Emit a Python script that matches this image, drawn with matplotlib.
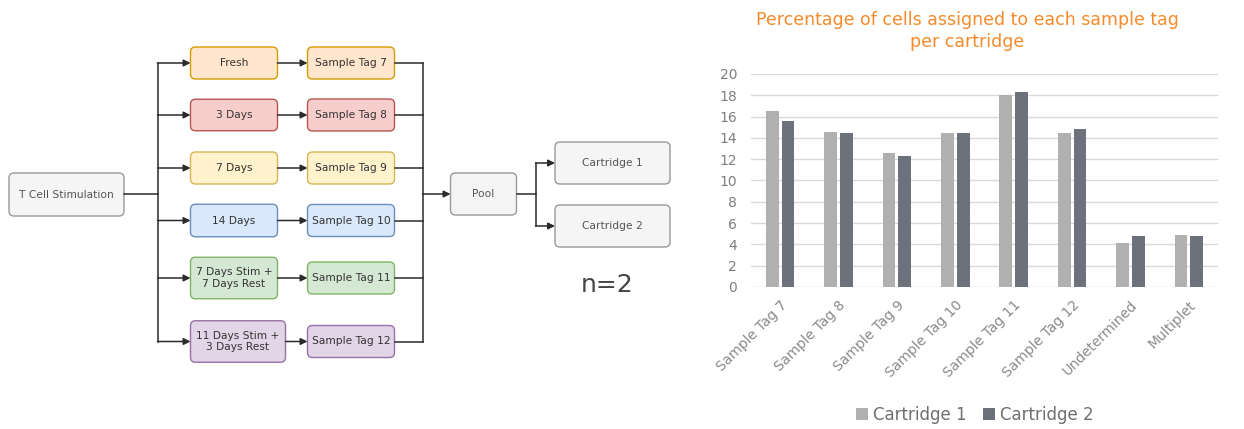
import matplotlib.pyplot as plt
import numpy as np
from matplotlib.patches import FancyBboxPatch

# Workflow labels
start_label = 'T Cell Stimulation'
stages = ['Fresh', '3 Days', '7 Days', '14 Days',
          '7 Days Stim +\n7 Days Rest', '11 Days Stim +\n3 Days Rest']
tags = ['Sample Tag 7', 'Sample Tag 8', 'Sample Tag 9',
        'Sample Tag 10', 'Sample Tag 11', 'Sample Tag 12']
cartridges = ['Cartridge 1', 'Cartridge 2']

# Chart data: percentage of cells per sample tag
categories = ['Sample Tag 7', 'Sample Tag 8', 'Sample Tag 9', 'Sample Tag 10',
              'Sample Tag 11', 'Sample Tag 12', 'Undetermined', 'Multiplet']
cartridge1 = [16.5, 14.6, 12.6, 14.5, 18.0, 14.5, 4.1, 4.9]
cartridge2 = [15.6, 14.5, 12.3, 14.5, 18.3, 14.8, 4.8, 4.8]

fills = ['#ffe6cc', '#f8cecc', '#fff2cc', '#dae8fc', '#d5e8d4', '#e1d5e7']
edges = ['#d79b00', '#b85450', '#d6b656', '#6c8ebf', '#82b366', '#9673a6']

W, H = 1244, 429
fig = plt.figure(figsize=(W / 100, H / 100), dpi=100)

###############################
# Flow diagram (pixel coordinates, y down).
###############################
ax0 = fig.add_axes([0, 0, 1, 1])
ax0.set_xlim(0, W)
ax0.set_ylim(H, 0)
ax0.axis('off')

line_c = '#2b2b2b'


def box(x0, y0, x1, y1, text, fc, ec, tc='#333333', fs=7.7):
    p = FancyBboxPatch((x0, y0), x1 - x0, y1 - y0,
                       boxstyle='round,pad=0,rounding_size=5',
                       fc=fc, ec=ec, lw=1.0)
    ax0.add_patch(p)
    ax0.text((x0 + x1) / 2, (y0 + y1) / 2, text, ha='center', va='center',
             fontsize=fs, color=tc, linespacing=1.2)


def arrow(x0, y, x1):
    ax0.annotate('', xy=(x1, y), xytext=(x0, y),
                 arrowprops=dict(arrowstyle='-|>', color=line_c, lw=1.1,
                                 mutation_scale=10, shrinkA=0, shrinkB=0))


row_y = [63, 115, 168, 220.5, 278, 341.5]
left_h = [32, 31.5, 32, 32.5, 41.5, 41.5]
left_w = [87, 87, 87, 87, 87, 95]

box(9, 173, 124, 216, start_label, '#f5f5f5', '#999999', tc='#555555')
ax0.plot([124, 157.5], [194, 194], color=line_c, lw=1.1)
ax0.plot([157.5, 157.5], [row_y[0], row_y[-1]], color=line_c, lw=1.1)

for i in range(6):
    y = row_y[i]
    x0 = 190.5
    x1 = x0 + left_w[i]
    box(x0, y - left_h[i] / 2, x1, y + left_h[i] / 2, stages[i], fills[i], edges[i])
    box(307.5, y - 16, 394.5, y + 16, tags[i], fills[i], edges[i])
    arrow(157.5, y, x0)
    arrow(x1, y, 307.5)
    ax0.plot([394.5, 422.5], [y, y], color=line_c, lw=1.1)

ax0.plot([422.5, 422.5], [row_y[0], row_y[-1]], color=line_c, lw=1.1)
arrow(422.5, 194, 450.5)
box(450.5, 173, 516.5, 215, 'Pool', '#f5f5f5', '#999999', tc='#555555')
ax0.plot([516.5, 535.5], [194, 194], color=line_c, lw=1.1)
ax0.plot([535.5, 535.5], [163, 226], color=line_c, lw=1.1)
for yc, lab in zip([163, 226], cartridges):
    arrow(535.5, yc, 555)
    box(555, yc - 21, 670, yc + 21, lab, '#f5f5f5', '#999999', tc='#555555')

ax0.text(607.5, 285, 'n=2', ha='center', va='center', fontsize=18, color='#444444')

###############################
# Bar chart.
###############################
ax = fig.add_axes([751 / W, 1 - 287 / H, (1218 - 751) / W, (287 - 74) / H])
x = np.arange(len(categories))
bw = 0.22
ax.bar(x - bw / 2 - 0.025, cartridge1, bw, color='#b0b0b0', label='Cartridge 1', zorder=3)
ax.bar(x + bw / 2 + 0.025, cartridge2, bw, color='#6d717b', label='Cartridge 2', zorder=3)

ax.set_xlim(-0.5, len(categories) - 0.5)
ax.set_ylim(0, 20)
ax.set_yticks(range(0, 21, 2))
ax.yaxis.grid(True, color='#d9d9d9', lw=1.0, zorder=0)
ax.set_axisbelow(True)
for s in ax.spines.values():
    s.set_visible(False)
ax.tick_params(axis='both', length=0, colors='#7f7f7f', labelsize=10)
ax.tick_params(axis='y', pad=10)
ax.set_xticks(x)
ax.set_xticklabels(categories, rotation=45, ha='right', rotation_mode='anchor')
ax.tick_params(axis='x', pad=8)
for lab in ax.get_xticklabels():
    lab.set_color('#8a8a8a')

fig.text(967 / W, 1 - 31 / H,
         'Percentage of cells assigned to each sample tag\nper cartridge',
         ha='center', va='center', color='#f58a2a', fontsize=12.5, linespacing=1.3)

fig.legend(loc='center', bbox_to_anchor=(975 / W, 1 - 415 / H), ncol=2,
           frameon=False, fontsize=12, labelcolor='#6f6f6f',
           handlelength=0.7, handleheight=0.7, handletextpad=0.3, columnspacing=1.0)

fig.savefig('out.png', dpi=100)
